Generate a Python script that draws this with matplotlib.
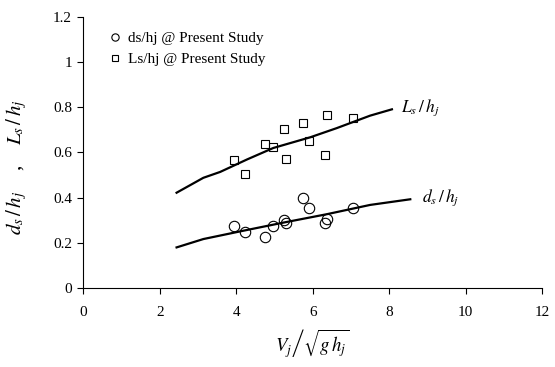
import matplotlib
matplotlib.use("Agg")
import matplotlib.pyplot as plt

# measured points (present study)
froude = [3.94, 4.23, 4.74, 4.97, 5.26, 5.29, 5.74, 5.91, 6.31, 6.37, 7.05]
ls_hj = [0.568, 0.505, 0.639, 0.623, 0.706, 0.573, 0.731, 0.653, 0.588, 0.768, 0.752]
froude_d = [3.94, 4.23, 4.74, 4.97, 5.25, 5.30, 5.74, 5.91, 6.31, 6.37, 7.05]
ds_hj = [0.273, 0.249, 0.224, 0.273, 0.302, 0.289, 0.400, 0.353, 0.290, 0.305, 0.355]

# fitted curves
ls_fit_x = [2.44, 3.14, 3.58, 4.28, 4.97, 5.93, 6.63, 7.5, 8.07]
ls_fit_y = [0.422, 0.488, 0.514, 0.569, 0.620, 0.667, 0.708, 0.763, 0.791]
ds_fit_x = [2.44, 3.14, 4.19, 5.24, 6.37, 7.5, 8.55]
ds_fit_y = [0.180, 0.217, 0.254, 0.290, 0.327, 0.368, 0.393]

plt.rcParams['font.family'] = ['Liberation Serif', 'DejaVu Serif']
plt.rcParams['mathtext.fontset'] = 'stix'

fig = plt.figure(figsize=(5.55, 3.67), dpi=100)
ax = fig.add_axes([0.150, 0.215, 0.827, 0.739])

ax.plot(froude_d, ds_hj, 'o', ms=7.5, mfc='none', mec='black', mew=0.8,
        label='ds/hj @ Present Study')
ax.plot(froude, ls_hj, 's', ms=5.5, mfc='none', mec='black', mew=0.8,
        label='Ls/hj @ Present Study')
ax.plot(ls_fit_x, ls_fit_y, '-', color='black', lw=1.6)
ax.plot(ds_fit_x, ds_fit_y, '-', color='black', lw=1.6)

ax.text(8.3, 0.80, r'$L_s\,/\,h_j$', fontsize=12.5, va='center', ha='left')
ax.text(8.85, 0.40, r'$d_s\,/\,h_j$', fontsize=12.5, va='center', ha='left')

ax.set_xlim(0, 12)
ax.set_ylim(0, 1.2)
ax.set_xticks(range(0, 13, 2))
ax.set_yticks([0, 0.2, 0.4, 0.6, 0.8, 1.0, 1.2])
ax.set_yticklabels(['0', '0.2', '0.4', '0.6', '0.8', '1', '1.2'])
ax.tick_params(direction='out', length=4, width=0.8, labelsize=11)
ax.tick_params(axis='x', pad=9)
ax.tick_params(axis='y', pad=4)
for s in ['top', 'right']:
    ax.spines[s].set_visible(False)
for s in ['left', 'bottom']:
    ax.spines[s].set_linewidth(0.8)

ax.set_xlabel(r'$V_j\left/\sqrt{g\,h_j}\right.$', fontsize=13.5, labelpad=6)
ax.set_ylabel(r'$d_s\,/\,h_j$    ,    $L_s\,/\,h_j$', fontsize=15)
ax.yaxis.set_label_coords(-0.118, 0.446)

ax.legend(loc='upper left', bbox_to_anchor=(0.035, 0.985), frameon=False,
          fontsize=11, markerscale=0.7, handlelength=0.7, handletextpad=0.5,
          labelspacing=0.45, borderaxespad=0.3)

fig.savefig('out.png', dpi=100)
